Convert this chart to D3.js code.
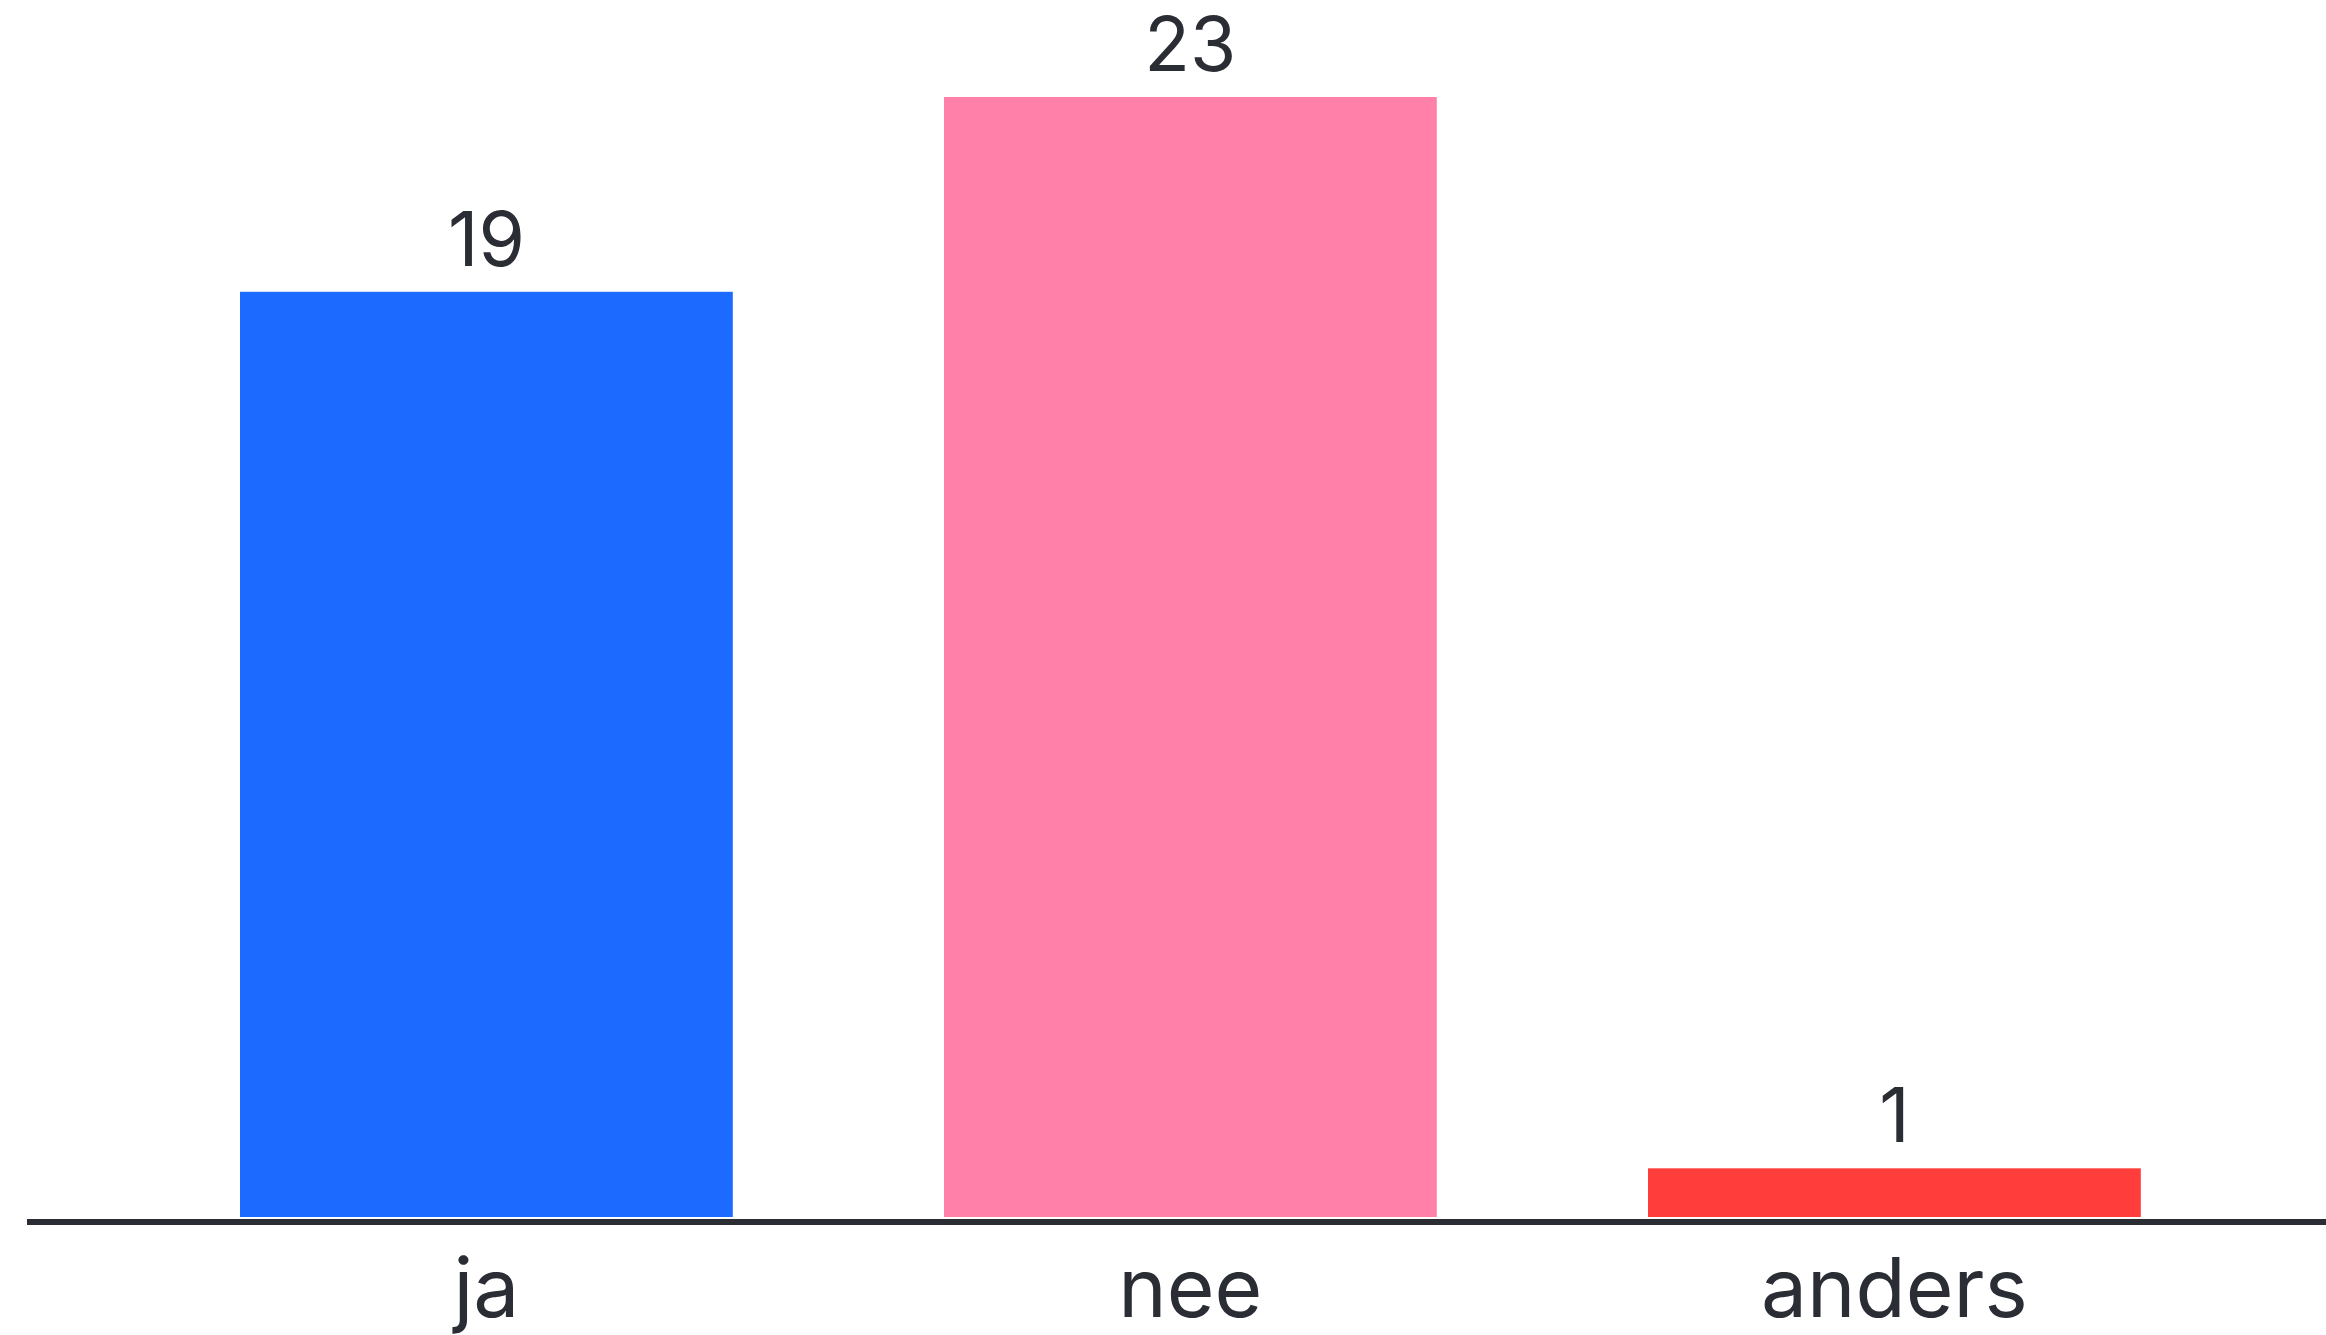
<!DOCTYPE html>
<html><head><meta charset="utf-8">
<script src="https://cdn.jsdelivr.net/npm/d3@7"></script>
<style>html,body{margin:0;padding:0;background:#fff;}svg{display:block;}</style>
</head><body>
<svg id="c" width="2326" height="1335"></svg>
<script>
const categories = ["ja", "nee", "anders"];
const values = [19, 23, 1];
const colors = ["#1c6aff", "#ff80a9", "#ff3e3b"];

const W = 2326, H = 1335;
const svg = d3.select("#c");
const baseY = 1219;
const step = 704;
const x = d3.scaleBand().domain(categories)
  .range([240 - 0.15 * step, 240 - 0.15 * step + step * 3])
  .paddingOuter(0.15).paddingInner(0.3);
const y = d3.scaleLinear().domain([0, 23]).range([baseY - 2, baseY - 2 - 1120]);

const font = "Inter, 'Open Sans', sans-serif";
const data = categories.map((c, i) => ({c, v: values[i], col: colors[i]}));

svg.selectAll("rect.bar").data(data).join("rect")
  .attr("class", "bar")
  .attr("x", d => x(d.c)).attr("width", x.bandwidth())
  .attr("y", d => y(d.v)).attr("height", d => y(0) - y(d.v))
  .attr("fill", d => d.col);

svg.selectAll("text.val").data(data).join("text")
  .attr("class", "val")
  .attr("x", d => x(d.c) + x.bandwidth() / 2)
  .attr("y", d => y(d.v) - 26)
  .attr("text-anchor", "middle")
  .attr("font-family", font).attr("font-size", 75).attr("fill", "#2a2d34")
  .text(d => d.v);

const axis = d3.axisBottom(x).tickSize(0).tickPadding(0);
const g = svg.append("g").attr("transform", `translate(0,${baseY})`).call(axis);
g.select(".domain").remove();
g.append("line").attr("x1", 27).attr("x2", W).attr("y1", 3).attr("y2", 3)
  .attr("stroke", "#2a2d34").attr("stroke-width", 6);
g.selectAll(".tick text").attr("dy", 0).attr("y", 98)
  .attr("font-family", font).attr("font-size", 82).attr("fill", "#2a2d34");
</script>
</body></html>
